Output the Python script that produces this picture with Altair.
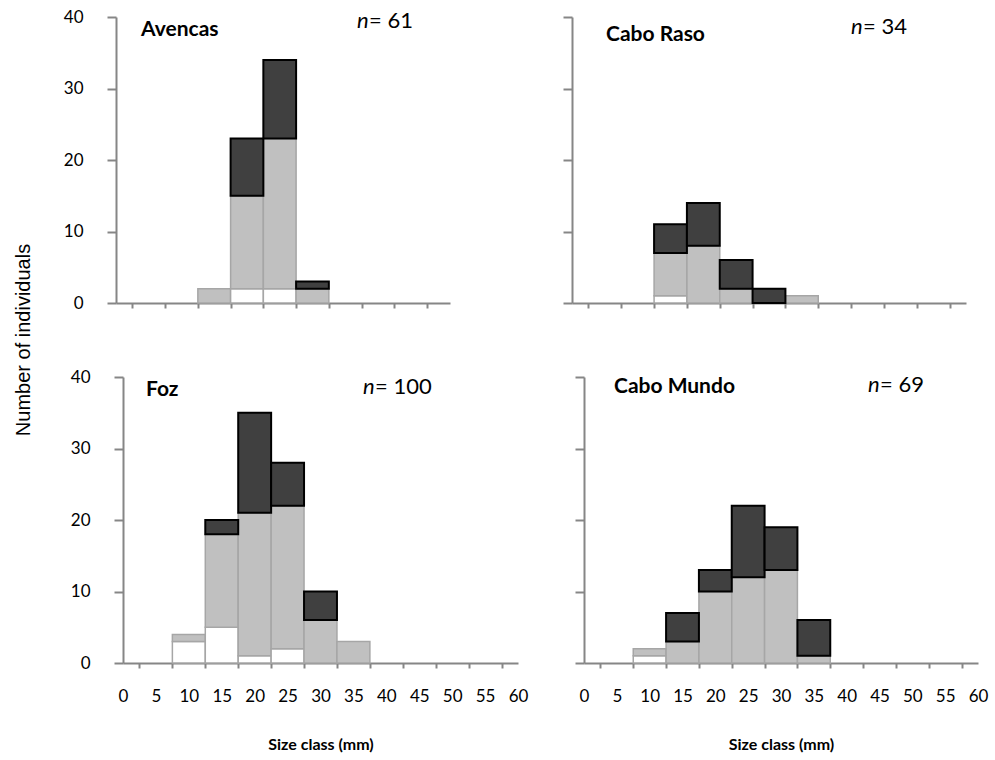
import altair as alt
import pandas as pd

# Size classes (mm) are bin centres; each bin is 5 mm wide
size_class = [10, 15, 20, 25, 30, 35]
bin_width = 5

# Axis tick values
x_label_values = [0, 5, 10, 15, 20, 25, 30, 35, 40, 45, 50, 55, 60]
bin_edges = [2.5, 7.5, 12.5, 17.5, 22.5, 27.5, 32.5, 37.5, 42.5, 47.5, 52.5, 57.5]
y_tick_values = [0, 10, 20, 30, 40]

# Counts per size class, three groups stacked bottom-up (open, grey, dark)
avencas_open = [0, 0, 2, 2, 0, 0]
avencas_grey = [0, 2, 13, 21, 2, 0]
avencas_dark = [0, 0, 8, 11, 1, 0]

cabo_raso_open = [0, 1, 0, 0, 0, 0]
cabo_raso_grey = [0, 6, 8, 2, 0, 1]
cabo_raso_dark = [0, 4, 6, 4, 2, 0]

foz_open = [3, 5, 1, 2, 0, 0]
foz_grey = [1, 13, 20, 20, 6, 3]
foz_dark = [0, 2, 14, 6, 4, 0]

cabo_mundo_open = [1, 0, 0, 0, 0, 0]
cabo_mundo_grey = [1, 3, 10, 12, 13, 1]
cabo_mundo_dark = [0, 4, 3, 10, 6, 5]

site_names = ["Avencas", "Cabo Raso", "Foz", "Cabo Mundo"]
site_n = [61, 34, 100, 69]

AXIS_GREY = "#868686"
FONT = "Lato"
HEIGHT = 286


def segments(open_, grey, dark):
    rows = []
    for i, c in enumerate(size_class):
        base = 0
        for part, vals in (("open", open_), ("grey", grey), ("dark", dark)):
            v = vals[i]
            if v:
                rows.append({"x0": c - bin_width / 2, "x1": c + bin_width / 2,
                             "y0": base, "y1": base + v, "part": part})
            base += v
    return pd.DataFrame(rows)


def panel(name, n, open_, grey, dark, width, x_max, x_shift, y_labels, x_labels,
          name_xy, n_xy):
    df = segments(open_, grey, dark)
    if x_labels:
        x_axis = alt.Axis(
            values=sorted(x_label_values + bin_edges),
            labelExpr="datum.value % 5 === 0 ? datum.label : ''",
            tickOpacity={"condition": {"test": "datum.value % 5 === 0", "value": 0}, "value": 1},
            labelOverlap=False, labelFlush=False, labelPadding=20,
            title="Size class (mm)", titlePadding=32,
        )
    else:
        x_axis = alt.Axis(values=[e for e in bin_edges if e <= x_max], labels=False, title=None)
    x = alt.X("x0:Q", axis=x_axis,
              scale=alt.Scale(domain=[0, x_max], range=[x_shift, width], nice=False, zero=False))
    x2 = alt.X2("x1")
    y = alt.Y("y0:Q", scale=alt.Scale(domain=[0, 40], nice=False),
              axis=alt.Axis(values=y_tick_values, labels=y_labels, title=None,
                            tickSize=9, labelPadding=24, offset=-x_shift))
    y2 = alt.Y2("y1")

    base = alt.Chart(df)
    light = base.transform_filter("datum.part != 'dark'").mark_rect(
        stroke="#a6a6a6", strokeWidth=1.5
    ).encode(
        x=x, x2=x2, y=y, y2=y2,
        fill=alt.Fill("part:N", legend=None,
                      scale=alt.Scale(domain=["open", "grey"], range=["#ffffff", "#c0c0c0"])),
    )
    heavy = base.transform_filter("datum.part == 'dark'").mark_rect(
        fill="#404040", stroke="#000000", strokeWidth=2
    ).encode(x=x, x2=x2, y=y, y2=y2)

    label_df = pd.DataFrame({"site": [name], "n": [f"= {n}"]})
    lbl = alt.Chart(label_df)
    site_text = lbl.mark_text(align="left", baseline="alphabetic", font=FONT,
                              fontSize=21, fontWeight="bold", color="black").encode(
        x=alt.value(x_shift + name_xy[0]), y=alt.value(name_xy[1]), text="site:N")
    n_italic = lbl.mark_text(align="left", baseline="alphabetic", font=FONT,
                             fontSize=22, fontStyle="italic", color="black").encode(
        x=alt.value(x_shift + n_xy[0]), y=alt.value(n_xy[1]), text=alt.value("n"))
    n_rest = lbl.mark_text(align="left", baseline="alphabetic", font=FONT,
                           fontSize=22, color="black").encode(
        x=alt.value(x_shift + n_xy[0] + 12), y=alt.value(n_xy[1]), text="n:N")

    return alt.layer(light, heavy, site_text, n_italic, n_rest).properties(
        width=width, height=HEIGHT)


tl = panel(site_names[0], site_n[0], avencas_open, avencas_grey, avencas_dark,
           width=334, x_max=51, x_shift=0, y_labels=True, x_labels=False,
           name_xy=(25, 19), n_xy=(241, 11))
tr = panel(site_names[1], site_n[1], cabo_raso_open, cabo_raso_grey, cabo_raso_dark,
           width=394, x_max=60, x_shift=0, y_labels=False, x_labels=False,
           name_xy=(34, 24), n_xy=(279, 17))
bl = panel(site_names[2], site_n[2], foz_open, foz_grey, foz_dark,
           width=402, x_max=60, x_shift=7, y_labels=True, x_labels=True,
           name_xy=(23, 19), n_xy=(240, 17))
br = panel(site_names[3], site_n[3], cabo_mundo_open, cabo_mundo_grey, cabo_mundo_dark,
           width=406, x_max=60, x_shift=12, y_labels=False, x_labels=True,
           name_xy=(30, 16), n_xy=(284, 15))

chart = alt.concat(
    tl, tr, bl, br, columns=2,
    spacing={"row": 74, "column": 54},
    bounds="flush", align="each", center=False,
    title=alt.TitleParams("Number of individuals", orient="left", anchor="middle",
                          frame="bounds", offset=29, dx=40, font="Liberation Sans",
                          fontSize=20, fontWeight="normal", color="black"),
).properties(
    padding={"left": 14, "top": 8, "right": 5, "bottom": 5},
    background="white",
).configure_view(stroke=None).configure_axis(
    grid=False,
    domainColor=AXIS_GREY, domainWidth=2,
    tickColor=AXIS_GREY, tickWidth=2, tickSize=5,
    labelFont=FONT, labelFontSize=17, labelColor="black",
    titleFont=FONT, titleFontSize=16, titleFontWeight="bold", titleColor="black",
)

chart.save("out.html", embed_options={"renderer": "svg", "actions": False})
